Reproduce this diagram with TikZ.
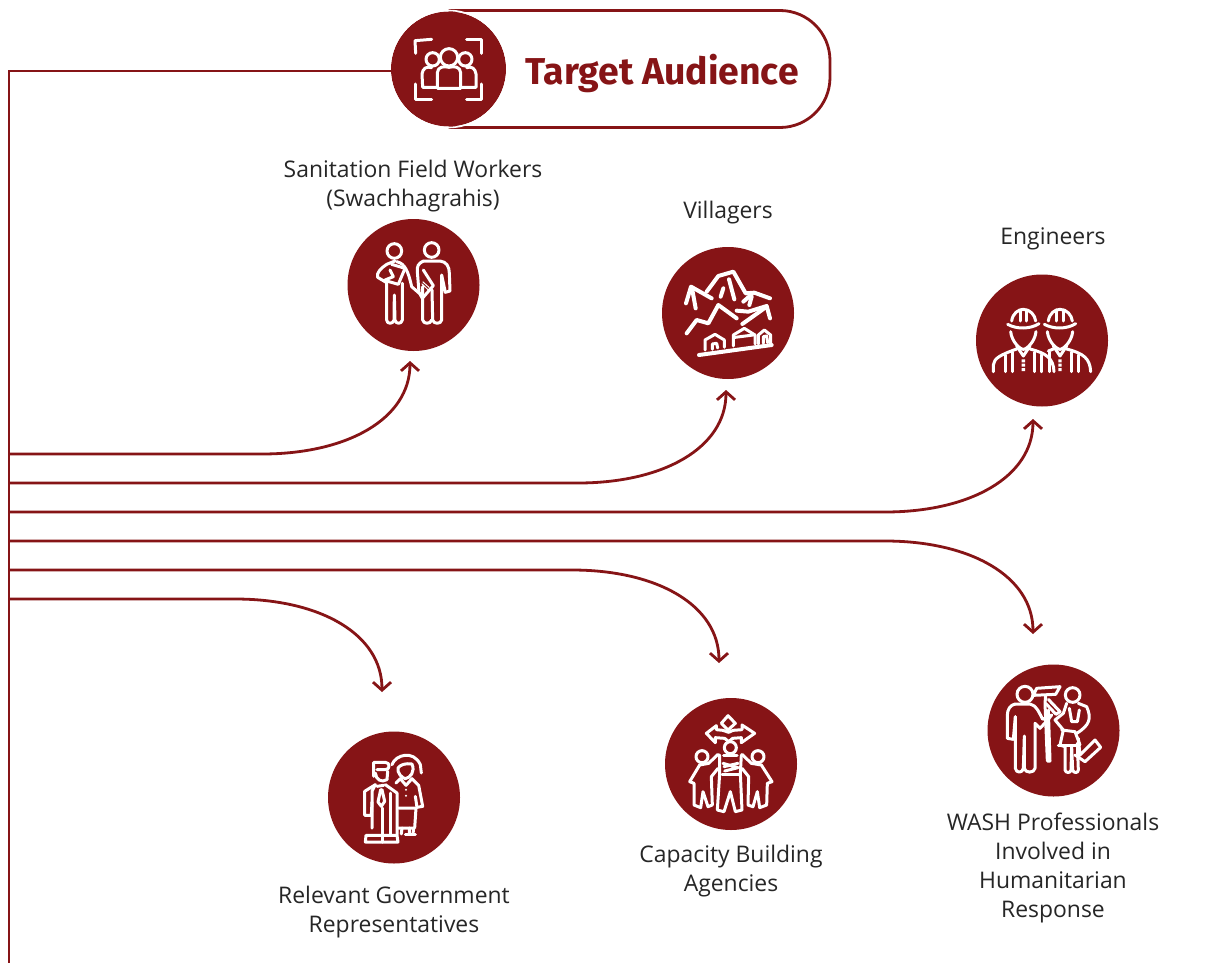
\documentclass[tikz,border=0pt]{standalone}
\usepackage{fontspec}
\setmainfont{Open Sans}
\newfontfamily\headfont{Fira Sans}[Scale=1]
\usetikzlibrary{arrows.meta}
\definecolor{maroon}{HTML}{861416}
\definecolor{txt}{HTML}{262626}
\tikzset{
  x=1pt,y=-1pt,
  conn/.style={draw=maroon,line width=2.8pt},
  arr/.style={conn,-{Straight Barb[length=8pt,width=18pt,line width=2.8pt]}},
  disc/.style={circle,fill=maroon,minimum size=132pt,inner sep=0pt},
  lab/.style={text=txt,font=\fontsize{22.9}{28.8}\selectfont,inner sep=0pt,align=center},
  ico/.style={draw=white,line width=3pt,line cap=round,line join=round,fill=none},
  thick ico/.style={ico,line width=4pt},
  zoomed/.style={x=0.33333pt,y=-0.33333pt}
}
\begin{document}
\begin{tikzpicture}
\useasboundingbox (0,0) rectangle (1215,963);
\fill[white] (0,0) rectangle (1215,963);

% header
\node[circle,fill=maroon,minimum size=115pt,inner sep=0pt] (hub) at (448.5,69) {};
\coordinate (pa) at (448.5,10.5);
\coordinate (pb) at (448.5,127.5);
\coordinate (pc) at (830,10.5);
\coordinate (pd) at (830,127.5);
\draw[conn,rounded corners=50pt] (pa) -- (pc) -- (pd) -- (pb);
\draw[white,line width=1.6pt] (hub) circle[radius=58.5];
\node[anchor=west,text=maroon,inner sep=0pt,font=\headfont\bfseries\fontsize{37.4}{40}\selectfont] (title) at (525,73) {Target Audience};

% discs
\node[disc] (s) at (413.5,285) {};
\node[disc] (v) at (728,313) {};
\node[disc] (e) at (1042,340.5) {};
\node[disc] (w) at (1053.5,730.5) {};
\node[disc] (c) at (731,764) {};
\node[disc] (r) at (394,797.5) {};

% labels
\node[lab] (ls) at (413,186) {Sanitation Field Workers\\(Swachhagrahis)};
\node[lab] (lv) at (728,213) {Villagers};
\node[lab] (le) at (1053,239) {Engineers};
\node[lab] (lw) at (1053,868) {WASH Professionals\\Involved in\\Humanitarian\\Response};
\node[lab] (lc) at (731,871) {Capacity Building\\Agencies};
\node[lab] (lr) at (394,912) {Relevant Government\\Representatives};

% connectors
\coordinate (top) at (9,71);
\coordinate (bot) at (9,963);
\coordinate (t1) at (9,454); \coordinate (t2) at (9,483); \coordinate (t3) at (9,512);
\coordinate (t4) at (9,541); \coordinate (t5) at (9,570); \coordinate (t6) at (9,599);
\coordinate (k1) at (262,454); \coordinate (k2) at (578,483); \coordinate (k3) at (885,512);
\coordinate (k4) at (885,541); \coordinate (k5) at (572,570); \coordinate (k6) at (235,599);
\coordinate (a1) at (410,361); \coordinate (a2) at (726,390); \coordinate (a3) at (1033,419);
\coordinate (a4) at (1033,634); \coordinate (a5) at (719,663); \coordinate (a6) at (382,692);
\draw[conn,line join=miter] (bot) -- (top) -- (top -| hub.west);
\draw[arr] (t1) -- (k1) .. controls +(85,0) and +(0,58) .. (a1);
\draw[arr] (t2) -- (k2) .. controls +(85,0) and +(0,58) .. (a2);
\draw[arr] (t3) -- (k3) .. controls +(85,0) and +(0,58) .. (a3);
\draw[arr] (t4) -- (k4) .. controls +(85,0) and +(0,-58) .. (a4);
\draw[arr] (t5) -- (k5) .. controls +(85,0) and +(0,-58) .. (a5);
\draw[arr] (t6) -- (k6) .. controls +(85,0) and +(0,-58) .. (a6);

% icon: header
\begin{scope}[shift={(380,0)},zoomed]
\draw[ico] (155,118) -- (105,122) -- (107,160);
\draw[ico] (260,118) -- (305,118) -- (305,160);
\draw[ico] (107,252) -- (107,298) -- (155,298);
\draw[ico] (305,252) -- (305,298) -- (260,298);
\draw[ico] (207,172) circle[radius=26];
\draw[ico] (158,178) circle[radius=20];
\draw[ico] (256,178) circle[radius=20];
\draw[ico] (172,265) -- (172,218) .. controls (174,200) and (190,198) .. (207,202) .. controls (224,198) and (240,200) .. (242,218) -- (242,265) -- cycle;
\draw[ico] (172,262) -- (128,262) -- (126,222) .. controls (128,205) and (140,198) .. (155,203);
\draw[ico] (242,262) -- (288,262) -- (288,222) .. controls (286,205) and (274,198) .. (260,203);
\end{scope}

% icon: sanitation workers
\begin{scope}[shift={(340,215)},zoomed]
\draw[ico] (163,108) circle[radius=22];
\draw[ico] (275,105) circle[radius=22];
\draw[ico] (165,138) -- (140,148) .. controls (122,160) and (108,175) .. (113,187) -- (140,203) -- (140,315) .. controls (140,328) and (160,328) .. (162,315) -- (163,240) -- (165,315) .. controls (167,328) and (185,328) .. (187,315) -- (187,205);
\draw[ico] (155,148) -- (195,160) -- (175,208) -- (140,198);
\draw[ico] (150,165) -- (160,185) -- (135,195);
\draw[ico] (170,140) .. controls (195,145) and (205,170) .. (215,215) -- (238,235);
\draw[ico] (250,138) -- (300,138) .. controls (320,140) and (328,155) .. (328,175) -- (330,228) -- (316,232) -- (305,180) -- (305,315) .. controls (303,328) and (280,328) .. (278,315) -- (276,225);
\draw[ico] (250,138) .. controls (235,145) and (230,155) .. (232,170) -- (237,232) -- (247,250) -- (280,212) -- (250,165);
\draw[ico] (248,215) -- (248,315) .. controls (250,328) and (272,328) .. (275,315);
\draw[white,line width=1pt] (248,200) -- (268,218) (245,206) -- (264,224);
\end{scope}

% icon: villagers
\begin{scope}[shift={(655,240)},zoomed]
\draw[thick ico] (93,190) -- (108,140) -- (170,175);
\draw[thick ico] (112,150) -- (122,205);
\draw[thick ico] (155,155) -- (190,108) -- (235,95) -- (272,160) -- (298,158) -- (345,175);
\draw[thick ico] (222,118) -- (238,178);
\draw[thick ico] (205,145) -- (197,170);
\draw[thick ico] (265,185) -- (290,163);
\draw[thick ico] (290,170) -- (283,195);
\draw[thick ico] (95,280) -- (125,240) -- (160,250) -- (190,195) -- (245,235);
\draw[thick ico] (245,212) -- (280,215) -- (335,198) -- (345,235);
\draw[thick ico] (262,252) -- (335,200);
\draw[thick ico] (132,345) -- (350,315);
\draw[ico] (150,330) -- (150,300) -- (180,283) -- (208,300) -- (208,322);
\draw[ico] (172,328) -- (172,312) -- (185,310) -- (188,324);
\draw[ico] (235,318) -- (235,285) -- (268,265) -- (300,285) -- (300,312);
\draw[ico] (240,292) -- (295,285);
\draw[ico] (310,312) -- (310,285) -- (328,270) -- (347,285) -- (347,312);
\draw[ico] (325,310) -- (325,290) -- (335,288) -- (338,308);
\end{scope}

% icon: engineers
\begin{scope}[shift={(970,270)},zoomed]
\foreach \dx in {0,110}{
\begin{scope}[xshift=\dx*0.33333pt]
\draw[ico] (125,153) .. controls (128,130) and (145,118) .. (160,118) .. controls (180,118) and (195,135) .. (197,153);
\draw[ico] (113,163) .. controls (140,178) and (180,178) .. (207,161);
\draw[ico] (150,120) -- (150,153) (170,120) -- (170,153);
\draw[ico] (122,185) .. controls (125,215) and (150,238) .. (160,238) .. controls (170,238) and (195,215) .. (198,185);
\draw[ico] (140,228) -- (160,258) -- (180,228);
\fill[white] (155,268) rectangle (165,277) (155,281) rectangle (165,290) (155,294) rectangle (165,303);
\draw[ico] (105,255) -- (105,305) (215,255) -- (215,305);
\draw[ico] (127,247) -- (127,305) (194,247) -- (194,305);
\end{scope}}
\draw[ico] (70,305) -- (70,285) .. controls (72,265) and (90,255) .. (140,237);
\draw[ico] (180,237) .. controls (230,250) and (250,265) .. (252,305);
\draw[ico] (235,243) -- (250,237);
\draw[ico] (290,237) .. controls (340,250) and (360,265) .. (362,305);
\end{scope}

% icon: WASH
\begin{scope}[shift={(980,660)},zoomed]
\draw[ico] (135,103) circle[radius=24];
\draw[ico] (105,132) -- (150,132) .. controls (170,135) and (178,160) .. (188,178) -- (215,165) -- (205,178) -- (180,205) -- (165,190) -- (165,325) .. controls (163,340) and (135,340) .. (133,325) -- (133,228) -- (130,325) .. controls (128,340) and (108,340) .. (106,325) -- (106,170);
\draw[ico] (105,132) .. controls (90,135) and (82,150) .. (82,165) -- (82,235) -- (100,238) -- (106,170);
\draw[ico] (170,85) -- (240,80) -- (227,103) -- (160,106) -- cycle;
\draw[ico] (197,106) -- (195,130) -- (202,303) -- (210,303) -- (205,150);
\draw[ico] (205,118) -- (240,155) -- (228,163) -- (197,130);
\draw[ico] (278,105) circle[radius=22];
\draw[ico] (250,160) -- (225,180) -- (250,210) -- (240,255) -- (255,260) -- (255,330) .. controls (257,340) and (272,340) .. (273,330) -- (275,262) -- (278,330) .. controls (280,340) and (295,340) .. (295,330) -- (292,250);
\draw[ico] (260,130) -- (250,160) (295,130) -- (320,140) .. controls (335,175) and (330,195) .. (290,220);
\draw[ico] (268,145) -- (275,185) -- (292,185) -- (298,150);
\draw[ico] (245,210) -- (285,215) -- (300,255);
\draw[ico] (235,255) -- (290,255);
\draw[ico] (295,235) -- (300,285) -- (345,240) -- (362,262) -- (315,305) -- (285,285);
\end{scope}

% icon: capacity
\begin{scope}[shift={(658,695)},zoomed]
\draw[ico] (210,62) -- (232,85) -- (210,105) -- (190,85) -- cycle;
\draw[ico] (175,92) -- (145,115) -- (172,143) -- (172,128) -- (200,130) -- (212,140) -- (224,130) -- (250,128) -- (250,143) -- (290,115) -- (252,90) -- (252,104) -- (225,106) -- (212,112) -- (195,106) -- (175,104) -- cycle;
\draw[ico] (217,158) circle[radius=18];
\draw[ico] (132,185) circle[radius=18];
\draw[ico] (300,185) circle[radius=18];
\draw[ico] (185,180) -- (185,235) -- (178,345) -- (198,350) -- (217,290) -- (232,350) -- (252,345) -- (247,235) -- (250,180);
\draw[ico] (197,180) -- (237,180);
\draw[ico] (195,205) -- (240,218) -- (200,228);
\draw[ico] (240,205) -- (198,215);
\draw[ico] (192,238) -- (242,238);
\draw[ico] (180,178) -- (152,205) -- (125,210) -- (95,260) -- (108,265) -- (108,330) -- (128,338) -- (135,290) -- (150,335) -- (163,330) -- (160,245) -- (180,220);
\draw[ico] (252,178) -- (280,205) -- (310,210) -- (342,260) -- (328,265) -- (326,330) -- (305,338) -- (298,290) -- (285,335) -- (270,330) -- (272,245) -- (252,220);
\end{scope}

% icon: government
\begin{scope}[shift={(322,728)},zoomed]
\draw[ico] (155,145) -- (155,103) -- (190,103) .. controls (205,103) and (205,125) .. (190,125) -- (165,125);
\draw[ico] (160,135) .. controls (162,155) and (178,165) .. (195,155) -- (197,130);
\draw[ico] (210,110) .. controls (220,80) and (275,65) .. (295,110) -- (298,135);
\draw[ico] (228,120) .. controls (235,110) and (250,105) .. (270,108) .. controls (280,130) and (265,150) .. (250,152) .. controls (240,150) and (225,135) .. (228,120) -- cycle;
\draw[ico] (160,170) -- (128,190) -- (128,262) -- (148,262) -- (150,222);
\draw[ico] (190,170) -- (225,195) -- (225,320);
\draw[ico] (160,170) -- (150,190) -- (150,300) (165,175) -- (185,172);
\draw[ico] (176,185) -- (168,222) -- (178,235) -- (188,220) -- (180,185);
\draw[ico] (180,240) -- (180,320) (205,195) -- (205,320);
\draw[ico] (130,342) -- (132,322) -- (225,322) -- (228,342) -- cycle;
\draw[ico] (182,322) -- (182,342);
\draw[ico] (222,165) -- (235,152) -- (252,172) -- (270,152) -- (290,172) -- (302,235) -- (285,238) -- (280,205);
\draw[ico] (230,240) -- (282,240) -- (278,300) -- (228,300);
\draw[ico] (240,300) -- (238,318) (262,300) -- (262,318) (275,300) -- (273,318);
\draw[ico] (250,318) -- (280,318);
\fill[white] (252,185) circle[radius=3.5] (252,203) circle[radius=3.5];
\end{scope}
\end{tikzpicture}
\end{document}
